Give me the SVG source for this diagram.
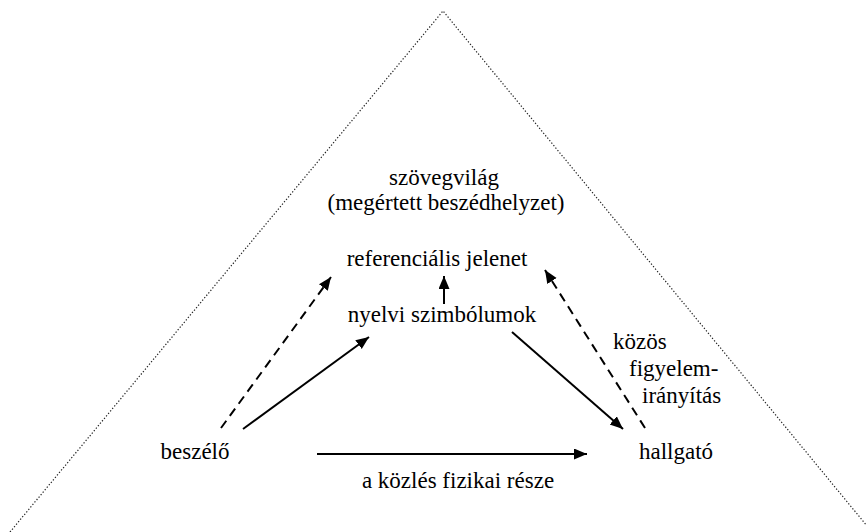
<svg xmlns="http://www.w3.org/2000/svg" width="866" height="532" viewBox="0 0 866 532">
<style>
text{font-family:"Liberation Serif","DejaVu Serif",serif;font-size:23px;fill:#000}
.c{text-anchor:middle}
.ln{stroke:#000;stroke-width:2;fill:none}
.dash{stroke-dasharray:9,6}
.tri{stroke:#222;stroke-width:1.2;stroke-dasharray:1.3,1.9;fill:none}
</style>
<defs>
<marker id="ah" markerUnits="userSpaceOnUse" markerWidth="14" markerHeight="12" refX="13" refY="5.5" orient="auto">
<path d="M0,0 L13,5.5 L0,11 z" fill="#000"/>
</marker>
</defs>
<polyline id="frame" class="tri" points="10,532 443,11 872,532"/>
<g id="connectors">
<line class="ln dash" x1="221" y1="428" x2="331" y2="277" marker-end="url(#ah)"/>
<line class="ln" x1="243" y1="429" x2="369" y2="337" marker-end="url(#ah)"/>
<line class="ln" x1="444" y1="304" x2="444" y2="276" marker-end="url(#ah)"/>
<line class="ln" x1="512" y1="332" x2="623" y2="429" marker-end="url(#ah)"/>
<line class="ln dash" x1="645" y1="428" x2="545" y2="270" marker-end="url(#ah)"/>
<line class="ln" x1="317" y1="454" x2="587" y2="454" marker-end="url(#ah)"/>
</g>
<g id="szovegvilag" font-family="Liberation Serif, serif">
<text class="c" x="444" y="185">szövegvilág</text>
<text class="c" x="446" y="210">(megértett beszédhelyzet)</text>
</g>
<g id="referencialis" font-family="Liberation Serif, serif"><text class="c" x="437" y="266">referenciális jelenet</text></g>
<g id="nyelvi" font-family="Liberation Serif, serif"><text class="c" x="442" y="322">nyelvi szimbólumok</text></g>
<g id="beszelo" font-family="Liberation Serif, serif"><text class="c" x="195" y="459">beszélő</text></g>
<g id="hallgato" font-family="Liberation Serif, serif"><text class="c" x="676" y="459">hallgató</text></g>
<g id="kozles" font-family="Liberation Serif, serif"><text class="c" x="458" y="488">a közlés fizikai része</text></g>
<g id="kozos" font-family="Liberation Serif, serif">
<text x="613" y="349">közös</text>
<text x="629" y="376">figyelem-</text>
<text x="642" y="403">irányítás</text>
</g>
</svg>
